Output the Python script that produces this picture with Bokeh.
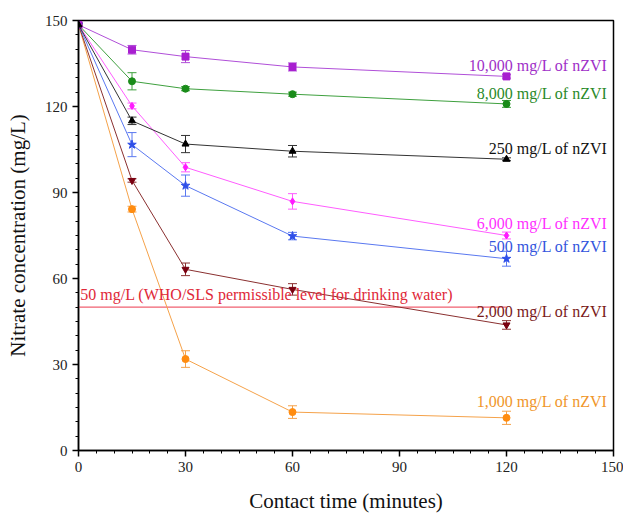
from bokeh.plotting import figure
from bokeh.models import ColumnDataSource, Whisker, TeeHead, FixedTicker, Label
from bokeh.embed import file_html
from bokeh.resources import INLINE

time = [0, 15, 30, 60, 120]
start = 148.5

c10000 = [start, 139.8, 137.4, 133.8, 130.5]
e10000 = [0.5, 1.5, 2.1, 1.4, 0.6]
c8000 = [start, 128.8, 126.2, 124.3, 120.9]
e8000 = [0.5, 3.0, 0.7, 0.7, 1.2]
c250 = [start, 115.0, 106.9, 104.4, 101.6]
e250 = [0.5, 1.3, 3.0, 2.0, 0.5]
c6000 = [start, 120.2, 98.8, 86.9, 75.0]
e6000 = [0.5, 1.0, 1.6, 2.7, 1.2]
c500 = [start, 106.7, 92.4, 74.8, 66.9]
e500 = [0.5, 4.2, 3.7, 1.3, 2.6]
c2000 = [start, 94.2, 63.2, 56.2, 43.8]
e2000 = [0.5, 0.6, 2.2, 2.0, 1.5]
c1000 = [start, 84.2, 31.9, 13.4, 11.4]
e1000 = [0.5, 1.0, 2.9, 2.2, 2.3]

labels = ["10,000 mg/L of nZVI", "8,000 mg/L of nZVI", "250 mg/L of nZVI",
          "6,000 mg/L of nZVI", "500 mg/L of nZVI", "2,000 mg/L of nZVI",
          "1,000 mg/L of nZVI"]
label_y = [134.3, 124.6, 105.2, 79.1, 71.2, 48.5, 17.1]

who_level = 50
who_text = "50 mg/L (WHO/SLS permissible level for drinking water)"

x_ticks = [0, 30, 60, 90, 120, 150]
y_ticks = [0, 30, 60, 90, 120, 150]

FONT = "Liberation Serif"

series = [
    (c1000, e1000, "#ff8c10", "#f5a24a", "circle"),
    (c2000, e2000, "#7a0010", "#8a3030", "inverted_triangle"),
    (c500, e500, "#2f4fe8", "#5a78f0", "star"),
    (c6000, e6000, "#ff1aff", "#ff5cff", "diamond"),
    (c8000, e8000, "#1a8c1a", "#3fa03f", "circle"),
    (c10000, e10000, "#a81fd0", "#b04fd8", "square"),
    (c250, e250, "#000000", "#333333", "triangle"),
]
label_colors = ["#a030c8", "#2a8a2a", "#111111", "#ff30ff", "#3355dd", "#7a1a1a", "#f0962a"]

p = figure(width=623, height=516, x_range=(0, 150), y_range=(0, 150),
           output_backend="svg", toolbar_location=None,
           min_border_left=78, min_border_right=10, min_border_top=20, min_border_bottom=66)
p.grid.visible = False
p.outline_line_color = "black"
p.outline_line_width = 1.5
p.background_fill_color = "white"

p.xaxis.ticker = FixedTicker(ticks=x_ticks, minor_ticks=list(range(0, 151, 5)))
p.yaxis.ticker = FixedTicker(ticks=y_ticks, minor_ticks=list(range(0, 151, 5)))
for ax in (p.xaxis[0], p.yaxis[0]):
    ax.axis_line_width = 1.5
    ax.axis_line_color = "black"
    ax.major_tick_line_width = 1.5
    ax.major_tick_out = 6
    ax.major_tick_in = 0
    ax.minor_tick_out = 3
    ax.minor_tick_in = 0
    ax.major_label_text_font = FONT
    ax.major_label_text_font_size = "15px"
    ax.major_label_text_color = "#222222"
    ax.axis_label_text_font = FONT
    ax.axis_label_text_font_size = "21px"
    ax.axis_label_text_font_style = "normal"
    ax.axis_label_text_color = "#111111"
p.xaxis.axis_label = "Contact time (minutes)"
p.yaxis.axis_label = "Nitrate concentration (mg/L)"
p.xaxis.axis_label_standoff = 14
p.yaxis.axis_label_standoff = 12

# WHO line
p.line([0, 120], [who_level, who_level], line_color="#f06070", line_width=1.3)
p.add_layout(Label(x=0.5, y=who_level + 1.3, text=who_text, text_font=FONT,
                   text_font_size="16px", text_color="#e02838"))

for (c, e, col, lcol, marker) in series:
    src = ColumnDataSource(dict(x=time, y=c, upper=[a + b for a, b in zip(c, e)],
                                lower=[a - b for a, b in zip(c, e)]))
    p.line("x", "y", source=src, line_color=lcol, line_width=1)
    p.add_layout(Whisker(base="x", upper="upper", lower="lower", source=src,
                         line_color=lcol, line_width=1,
                         upper_head=TeeHead(size=9, line_color=lcol, line_width=1),
                         lower_head=TeeHead(size=9, line_color=lcol, line_width=1)))
    p.scatter("x", "y", source=src, marker=marker, size=7 if marker != "star" else 9,
              fill_color=col, line_color=col)

for t, ly, lc in zip(labels, label_y, label_colors):
    p.add_layout(Label(x=148.3, y=ly, text=t, text_font=FONT, text_font_size="16px",
                       text_color=lc, text_align="right", text_baseline="middle"))

open("out.html", "w").write(file_html(p, INLINE))
